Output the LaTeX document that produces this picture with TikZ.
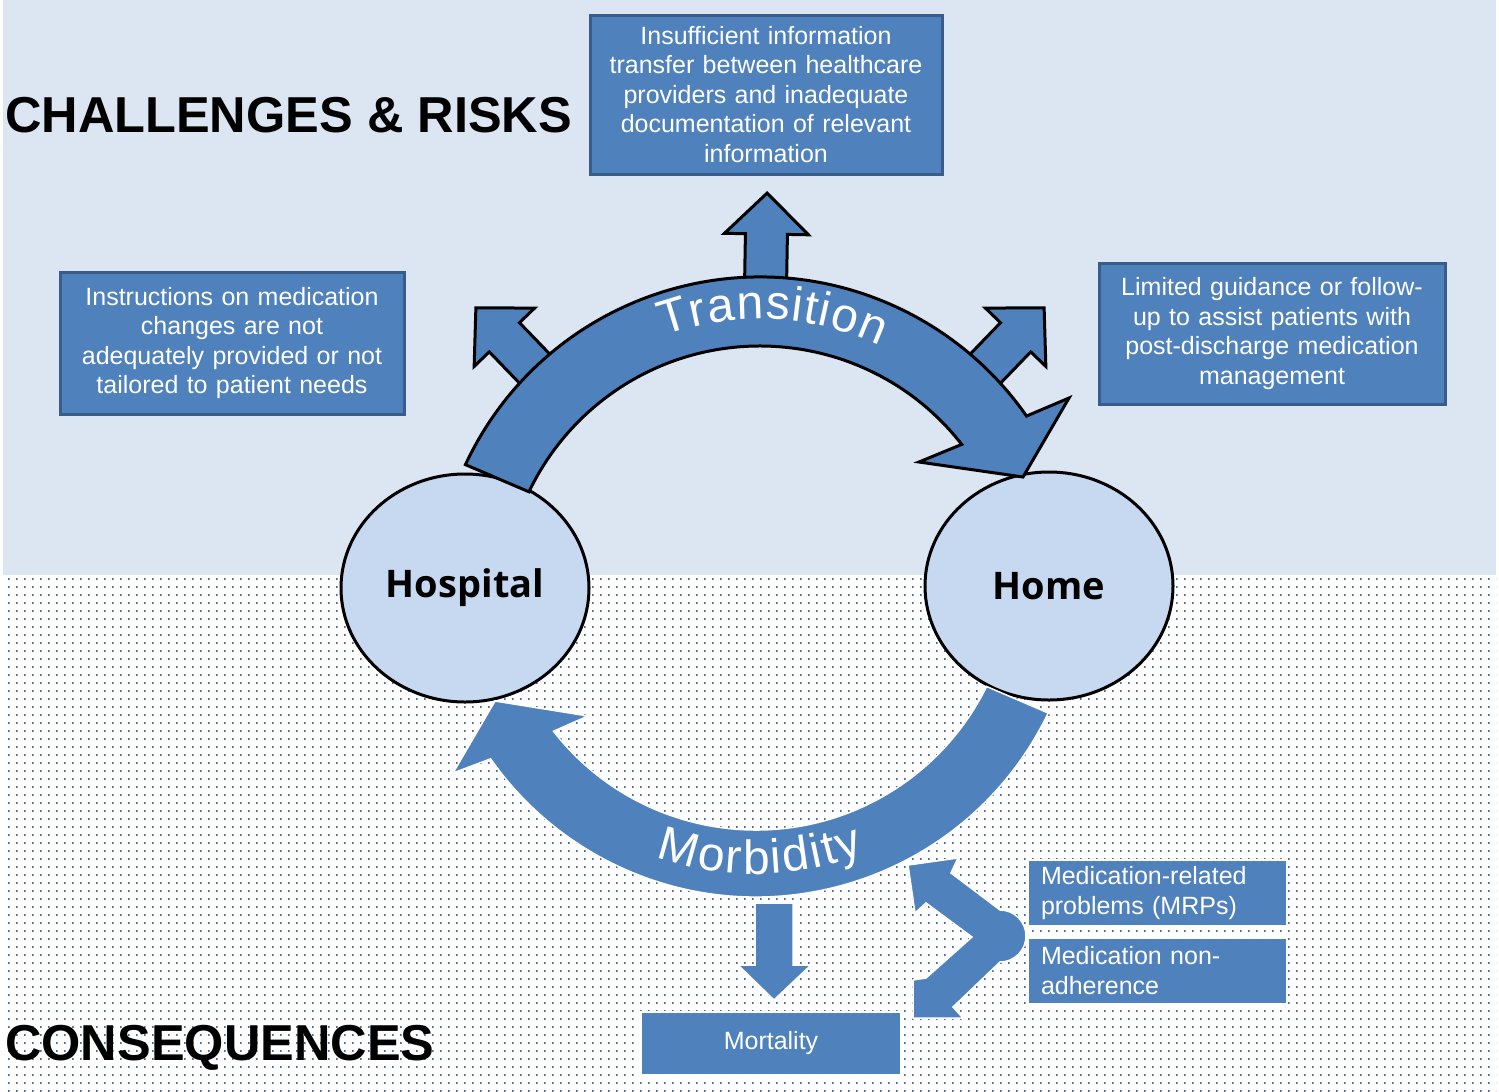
\documentclass[tikz,border=0pt]{standalone}
\usepackage{fontspec}
\setmainfont{Liberation Sans}
\newfontfamily\arcfont{Liberation Sans}
\newfontfamily\placefont{Open Sans}
\usetikzlibrary{shapes.geometric}
\usetikzlibrary{calc}
\usetikzlibrary{patterns.meta}
\usetikzlibrary{decorations.text}

\definecolor{skyback}{RGB}{220,230,242}
\definecolor{boxblue}{RGB}{79,129,189}
\definecolor{boxedge}{RGB}{56,93,138}
\definecolor{placeblue}{RGB}{198,217,241}
\definecolor{dotgray}{RGB}{80,105,150}

\tikzdeclarepattern{
  name=griddots,
  type=uncolored,
  bounding box={(0pt,0pt) and (1.6pt,1.6pt)},
  tile size={(8pt,8pt)},
  code={\fill (0pt,0pt) rectangle (1.6pt,1.6pt);}
}

\begin{document}
\begin{tikzpicture}[x=1pt, y=-1pt,
  riskbox/.style={draw=boxedge, line width=3pt, fill=boxblue, text=white,
    font=\fontsize{25}{29.5}\selectfont, align=center, inner sep=0pt},
  conbox/.style={draw=white, line width=1.5pt, fill=boxblue, text=white,
    font=\fontsize{25}{30}\selectfont, inner sep=0pt},
  place/.style={ellipse, draw=black, line width=3pt, fill=placeblue,
    minimum width=248pt, minimum height=228pt,
    font=\placefont\bfseries\fontsize{38}{38}\selectfont},
  outarrow/.style={draw=black, line width=3pt, fill=boxblue},
  softarrow/.style={draw=white, line width=1.5pt, fill=boxblue},
  heading/.style={font=\bfseries\fontsize{50.5}{50.5}\selectfont, anchor=base west, inner sep=0pt}]

	\useasboundingbox (0,0) rectangle (1499,1092);
	\fill[skyback] (3,0) rectangle (1496,575);
	\fill[white] (3,575) rectangle (1496,1092);
	\fill[pattern=griddots, pattern color=dotgray] (3,575) rectangle (1496,1092);

	\node[heading] (risks) at (5,132) {CHALLENGES \& RISKS};
	\node[heading] (cons) at (5,1060) {CONSEQUENCES};

	\coordinate (tc) at (760,602);
	\coordinate (mc) at (756,573);

	\foreach \a in {134,89,46}{
		\begin{scope}[shift={(tc)}, rotate=\a]
			\draw[outarrow] (300,-21) -- (368,-21) -- (368,-42) -- (409,0)
			-- (368,42) -- (368,21) -- (300,21) -- cycle;
		\end{scope}
	}

	\node[place] (hospital) at (465,588) {Hospital};
	\node[place] (home) at (1049,586) {Home};

	\draw[outarrow] ($(tc)+(-155:325)$) arc[start angle=-155, end angle=-34.9, radius=325]
	-- (1069,398) -- (1023,477) -- (919,462)
	-- ($(tc)+(-38:256)$) arc[start angle=-38, end angle=-154.5, radius=256] -- cycle;
	\path[decorate, decoration={text along path, text align=fit to path, text color=white,
		text={|\arcfont\fontsize{48}{48}\selectfont|Transition}}]
	($(tc)+(-110:283)$) arc[start angle=-110, end angle=-65, radius=283];

	\draw[softarrow] ($(mc)+(25.6:324)$) arc[start angle=25.6, end angle=145, radius=324]
	-- (453,773) -- (495,701) -- (588,716)
	-- ($(mc)+(142:257)$) arc[start angle=142, end angle=26.2, radius=257] -- cycle;
	\path[decorate, decoration={text along path, text align=fit to path, text color=white,
		text={|\arcfont\fontsize{48}{48}\selectfont|Morbidity}}]
	($(mc)+(109.5:301)$) arc[start angle=109.5, end angle=69, radius=301];

	\node[riskbox, text width=340pt, minimum width=352pt, minimum height=159pt] (transfer) at (766,94.5)
	{Insufficient information\\transfer between healthcare\\providers and inadequate\\documentation of relevant\\information};
	\node[riskbox, text width=330pt, minimum width=344pt, minimum height=142pt] (instruct) at (232,343)
	{Instructions on medication\\changes are not\\adequately provided or not\\tailored to patient needs};
	\node[riskbox, text width=330pt, minimum width=346pt, minimum height=141pt] (guidance) at (1272,333.5)
	{Limited guidance or follow-\\up to assist patients with\\post-discharge medication\\management};

	\node[conbox, align=left, text width=233pt, inner xsep=13pt, minimum height=66pt] (mrp) at (1157.5,893)
	{Medication-related\\problems (MRPs)};
	\node[conbox, align=left, text width=233pt, inner xsep=13pt, minimum height=66pt] (nonadh) at (1157.5,971)
	{Medication non-\\adherence};
	\node[conbox, minimum width=260pt, minimum height=63pt] (mortality) at (771,1043.5) {Mortality};

	\draw[softarrow] (755,903) -- (793,903) -- (793,965) -- (811,965) -- (774,1000)
	-- (738,965) -- (755,965) -- cycle;
	\draw[softarrow] (908,865) -- (958,858) -- (951,873) -- (1000,910)
	arc[start angle=-90, end angle=90, radius=26] -- (953,1007) -- (963,1018)
	-- (913,1018) -- (913,980) -- (926,978) -- (972,937) -- (926,903) -- (915,913) -- cycle;
\end{tikzpicture}
\end{document}
